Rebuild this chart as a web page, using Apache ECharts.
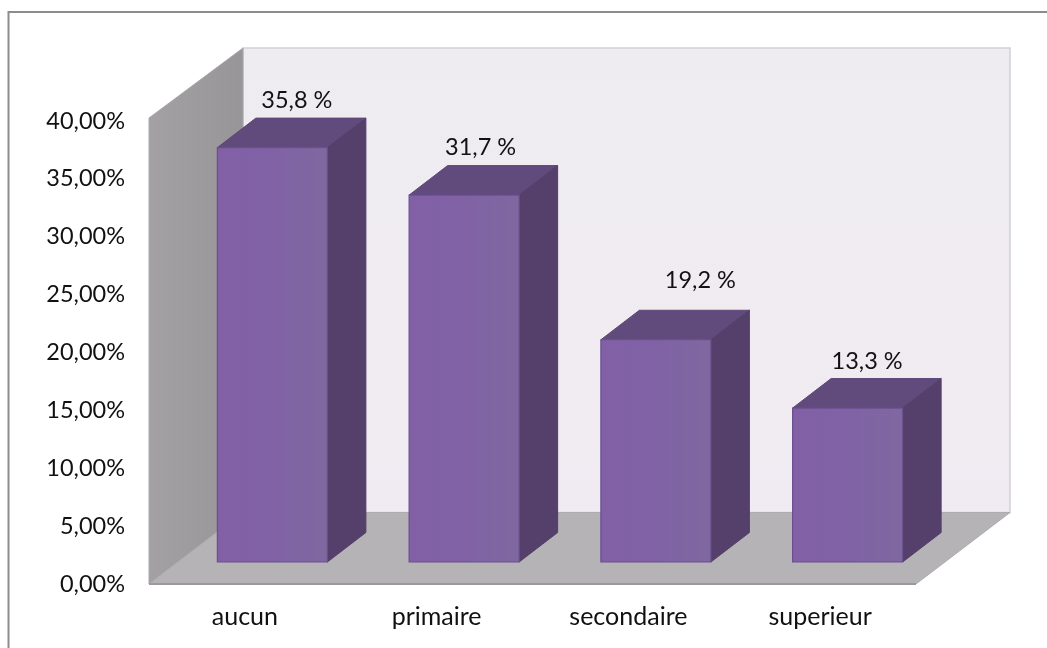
<!DOCTYPE html>
<html>
<head>
<meta charset="utf-8">
<style>html,body{margin:0;padding:0;background:#fff}#c{width:1047px;height:648px}</style>
<script src="https://cdn.jsdelivr.net/npm/echarts@6/dist/echarts.min.js"></script>
</head>
<body>
<div id="c"></div>
<script>
const categories = ['aucun', 'primaire', 'secondaire', 'superieur'];
const values = [35.8, 31.7, 19.2, 13.3];
const valueLabels = ['35,8 %', '31,7 %', '19,2 %', '13,3 %'];
const yMax = 40;
const yStep = 5;

// 3D projection and label placement (pixels)
const WALL = { dx: 94, dy: -71.5, riseFront: 3, riseBack: 1.5 };
const BAR_FRONT = { dx: 27.5, dy: -22 };
const BAR_DEPTH = { dx: 38.5, dy: -29.5 };
const BAR_WIDTH = 110;
const LABEL_NUDGE = [[24.5, -17.5], [16.5, -18], [44.5, -30], [19.5, -17]];

const chart = echarts.init(document.getElementById('c'), null, { renderer: 'canvas' });
const grad = (x2, y2, stops) => new echarts.graphic.LinearGradient(0, 0, x2, y2,
  stops.map((c, i) => ({ offset: i / (stops.length - 1), color: c })));

function poly(points, fill, stroke, lw) {
  return { type: 'polygon', shape: { points }, style: { fill, stroke: stroke || null, lineWidth: lw || 0 } };
}

function renderRoom(params) {
  const g = params.coordSys, L = g.x, R = g.x + g.width, B = g.y + g.height;
  const Tf = g.y - WALL.riseFront, Tb = g.y - WALL.riseBack + WALL.dy;
  const dx = WALL.dx, dy = WALL.dy;
  return {
    type: 'group', silent: true, children: [
      poly([[L + dx, Tb], [R + dx, Tb], [R + dx, B + dy], [L + dx, B + dy]],
        grad(0, 1, ['#eeecf1', '#f0ebf2']), '#d2d0d3', 1.5),
      poly([[L, Tf], [L + dx, Tb], [L + dx, B + dy], [L, B]],
        grad(1, 0, ['#a3a1a4', '#989598']), '#a9a7aa', 1),
      poly([[L, B], [L + dx, B + dy], [R + dx, B + dy], [R, B]],
        '#b5b3b6', '#aeacaf', 1),
      { type: 'line', shape: { x1: L, y1: B, x2: R, y2: B }, style: { stroke: '#9c9a9c', lineWidth: 2 } }
    ]
  };
}

function renderBar(params, api) {
  const i = params.dataIndex;
  const c = api.coord([api.value(0), api.value(1)]);
  const o = api.coord([api.value(0), 0]);
  const l = c[0] + BAR_FRONT.dx - BAR_WIDTH / 2, r = l + BAR_WIDTH;
  const t = c[1] + BAR_FRONT.dy, b = o[1] + BAR_FRONT.dy;
  const dx = BAR_DEPTH.dx, dy = BAR_DEPTH.dy;
  const nudge = LABEL_NUDGE[i];
  return {
    type: 'group', children: [
      poly([[l, t], [l + dx, t + dy], [r + dx, t + dy], [r, t]], '#614b7c', '#5d4778', 1),
      poly([[r, t], [r + dx, t + dy], [r + dx, b + dy], [r, b]], '#54406a', '#533f69', 1),
      { type: 'rect', shape: { x: l, y: t, width: BAR_WIDTH, height: b - t },
        style: { fill: grad(1, 0, ['#8260a6', '#8062a5', '#7f68a0']), stroke: '#6b4f8f', lineWidth: 1.2 } },
      { type: 'text', x: (l + r) / 2 + nudge[0], y: t + dy + nudge[1],
        style: { text: valueLabels[i], font: '23.5px Lato', fill: '#111', align: 'center', verticalAlign: 'middle' } }
    ]
  };
}

chart.setOption({
  backgroundColor: '#fff',
  animation: false,
  grid: { left: 149, top: 121, width: 767, height: 463 },
  xAxis: {
    type: 'category', data: categories,
    axisLine: { show: false }, axisTick: { show: false }, splitLine: { show: false },
    axisLabel: { color: '#111', fontFamily: 'Lato', fontSize: 25, margin: 20 }
  },
  yAxis: {
    type: 'value', min: 0, max: yMax, interval: yStep,
    axisLine: { show: false }, axisTick: { show: false }, splitLine: { show: false },
    axisLabel: { color: '#111', fontFamily: 'Lato', fontSize: 23.5, margin: 24,
      formatter: v => v.toFixed(2).replace('.', ',') + '%' }
  },
  series: [
    { type: 'custom', renderItem: renderRoom, data: [0], z: 1, silent: true, clip: false },
    { type: 'custom', renderItem: renderBar, z: 2, clip: false, encode: { x: 0, y: 1 },
      data: values.map((v, i) => [i, v]) }
  ],
  graphic: [
    { type: 'polyline', silent: true, z: 0,
      shape: { points: [[8.5, 648], [8.5, 12], [1047, 12]] },
      style: { stroke: '#8c8c8c', lineWidth: 2, fill: null } }
  ]
});
</script>
</body>
</html>
